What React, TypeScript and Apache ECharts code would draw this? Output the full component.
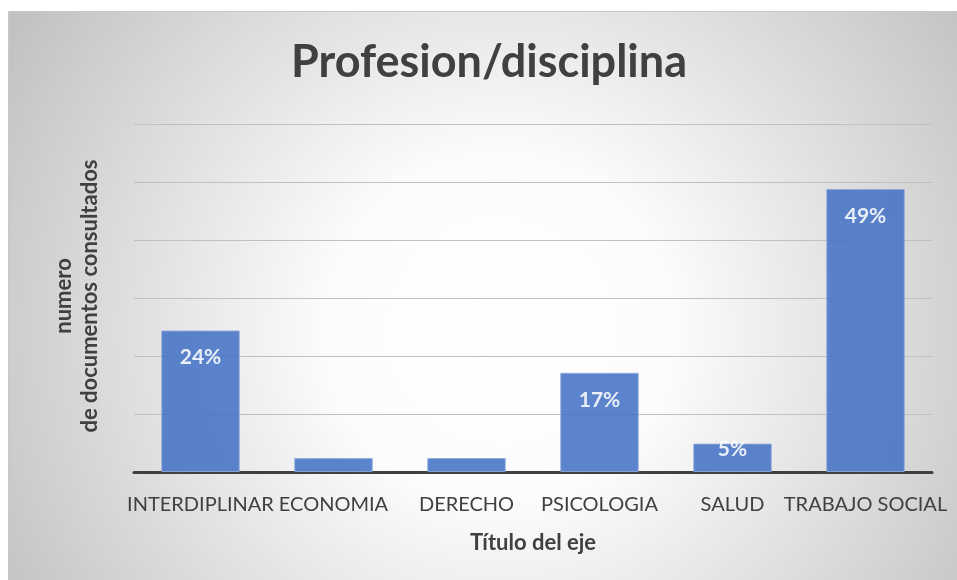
import React, { useEffect, useRef } from "react";
import * as echarts from "echarts";

const categories = ["INTERDIPLINAR", "ECONOMIA", "DERECHO", "PSICOLOGIA", "SALUD", "TRABAJO SOCIAL"];
const values = [24.4, 2.4, 2.4, 17.1, 4.9, 48.8];
const labelShown = [true, false, false, true, true, true];
const chartTitle = "Profesion/disciplina";
const yTitle = "numero\nde documentos consultados";
const xTitle = "Título del eje";

export default function App() {
  const ref = useRef<HTMLDivElement>(null);
  useEffect(() => {
    if (!ref.current) return;
    const chart = echarts.init(ref.current, null, { renderer: "svg" });
    const font = "Lato, 'Noto Sans', sans-serif";
    chart.setOption({
      animation: false,
      graphic: [
        {
          type: "rect",
          z: -10,
          silent: true,
          shape: { x: 8.5, y: 11.5, width: 960, height: 580 },
          style: {
            fill: {
              type: "radial",
              x: 500,
              y: 330,
              r: 570,
              global: true,
              colorStops: [
                { offset: 0, color: "#ffffff" },
                { offset: 0.3, color: "#fcfcfc" },
                { offset: 1, color: "#c2c2c2" },
              ],
            },
            stroke: "#c8c8c8",
            lineWidth: 1,
          },
        },
        {
          type: "text",
          x: 75,
          y: 296,
          rotation: Math.PI / 2,
          style: {
            text: yTitle,
            font: `bold 22px ${font}`,
            fill: "#404040",
            align: "center",
            verticalAlign: "middle",
            lineHeight: 26,
          },
        },
        {
          type: "text",
          x: 533,
          y: 541,
          style: {
            text: xTitle,
            font: `bold 22px ${font}`,
            fill: "#404040",
            align: "center",
            verticalAlign: "middle",
          },
        },
      ],
      title: {
        text: chartTitle,
        left: 489,
        top: 37,
        textAlign: "center",
        padding: 0,
        textStyle: { fontFamily: font, fontWeight: "bold", fontSize: 45, color: "#404040" },
      },
      grid: { left: 134, right: 25, top: 124, bottom: 108 },
      xAxis: {
        type: "category",
        data: categories,
        axisTick: { show: false },
        axisLine: { lineStyle: { color: "#404040", width: 3 } },
        axisLabel: { color: "#404040", fontFamily: font, fontSize: 20, margin: 21, interval: 0 },
      },
      yAxis: {
        type: "value",
        min: 0,
        max: 60,
        interval: 10,
        axisLabel: { show: false },
        axisLine: { show: false },
        axisTick: { show: false },
        splitLine: { lineStyle: { color: "#c0c0c0", width: 1.2 } },
      },
      series: [
        {
          type: "bar",
          barWidth: "59%",
          data: values.map((v, i) => ({
            value: v,
            label: labelShown[i]
              ? i === 4
                ? { show: true, position: "insideTop", distance: -7 }
                : { show: true }
              : { show: false },
          })),
          itemStyle: { color: "#4472C4", opacity: 0.87, borderColor: "#8eaadc", borderWidth: 1 },
          label: {
            show: true,
            position: "insideTop",
            distance: 15,
            color: "#ffffff",
            fontFamily: font,
            fontWeight: "bold",
            fontSize: 21,
            formatter: (p: any) => `${Math.round(p.value)}%`,
          },
        },
      ],
    });
    return () => chart.dispose();
  }, []);
  return <div ref={ref} style={{ position: "fixed", left: 0, top: 0, width: 957, height: 580 }} />;
}
